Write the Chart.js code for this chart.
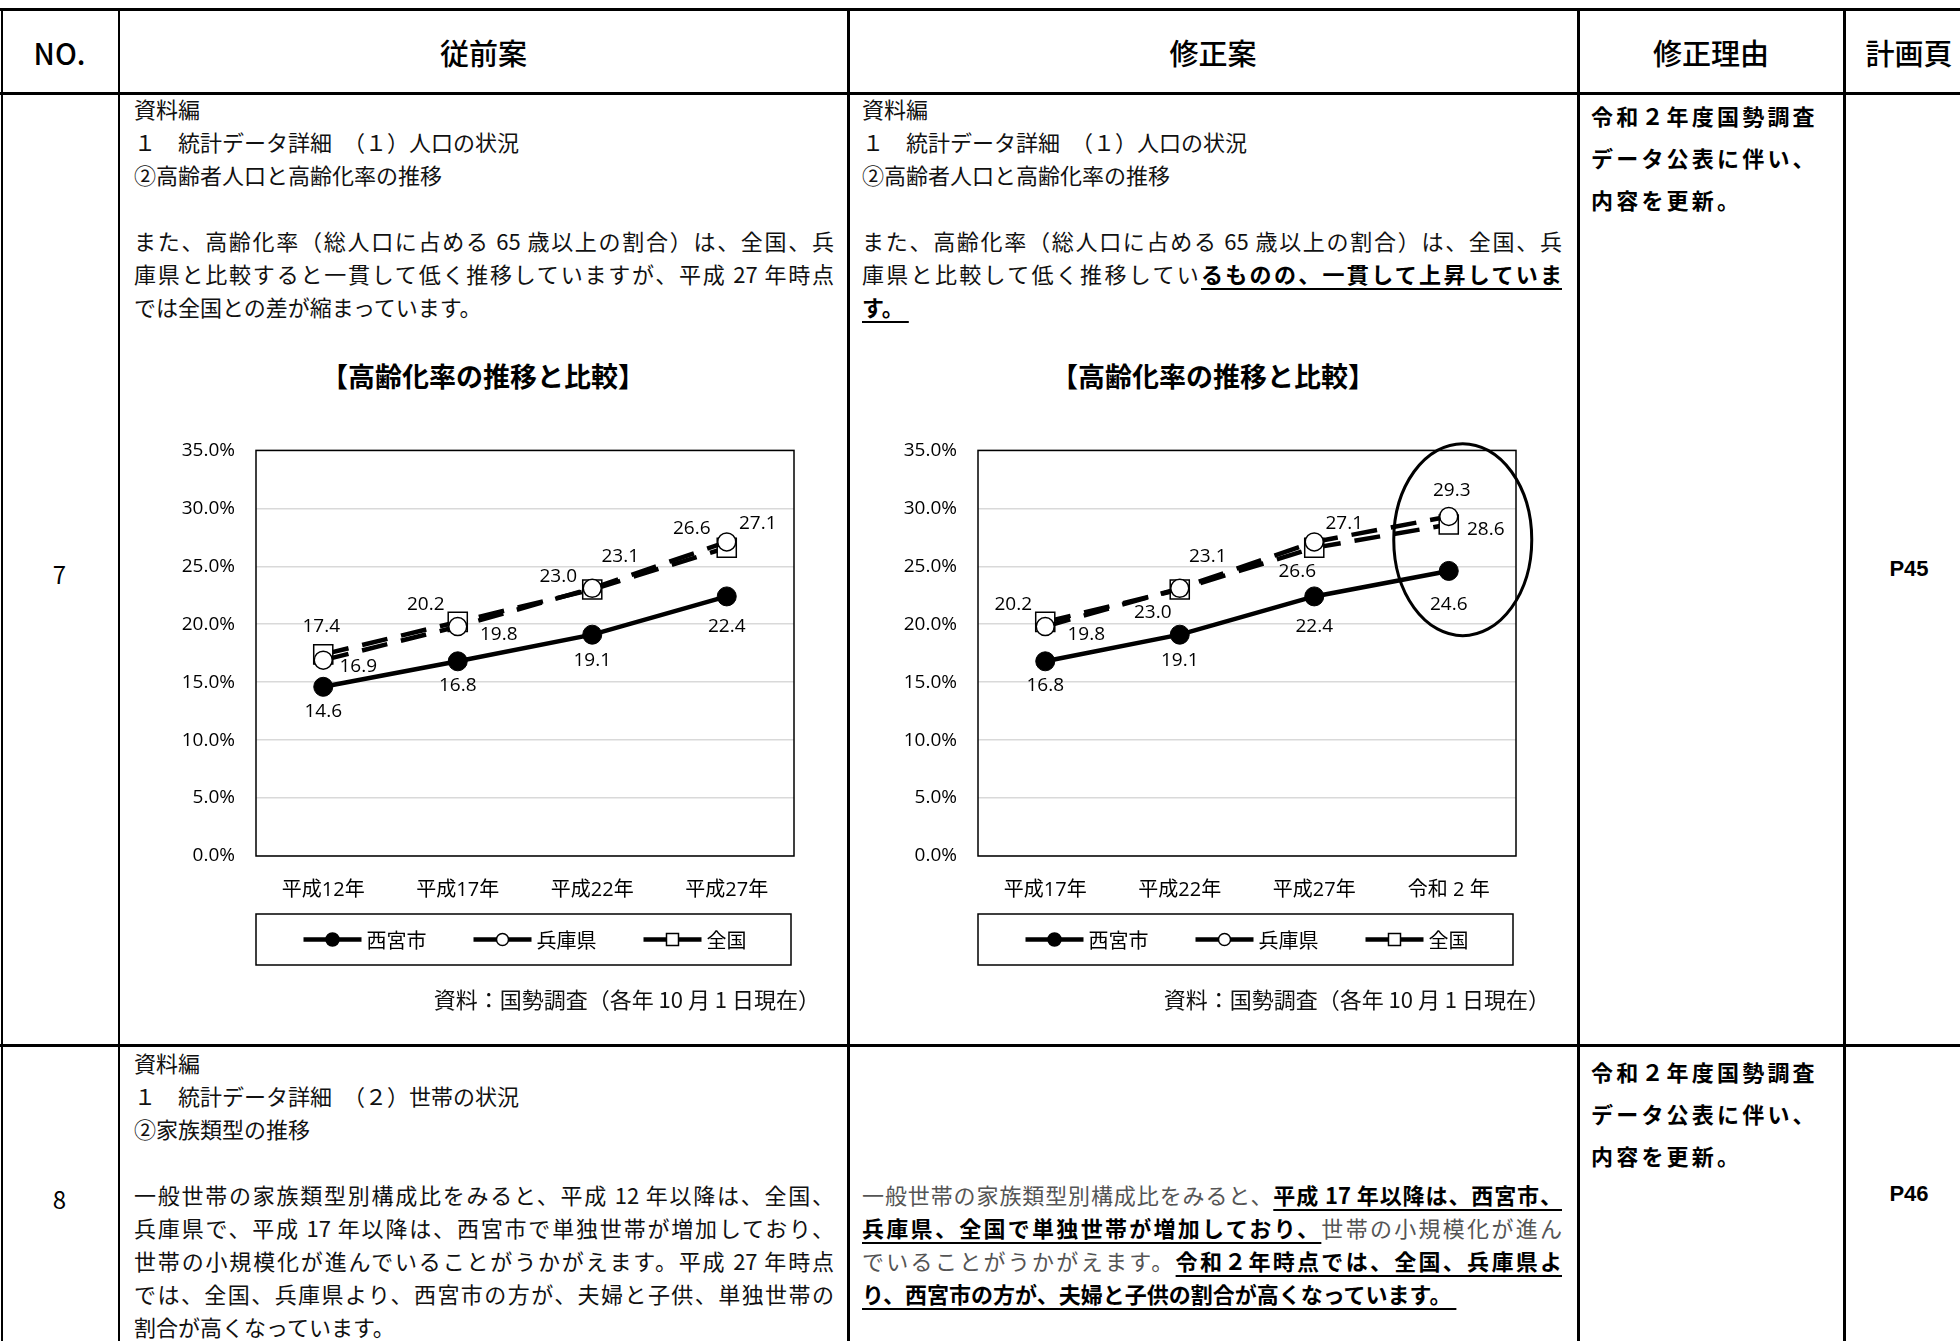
<!DOCTYPE html>
<html lang="ja">
<head>
<meta charset="utf-8">
<title>高齢化率の推移と比較</title>
<script src="https://cdn.jsdelivr.net/npm/chart.js@4.4.1/dist/chart.umd.min.js"></script>
<style>
html, body { margin: 0; padding: 0; background: #fff; }
body { width: 1960px; height: 1341px; position: relative; overflow: hidden;
       font-family: "Noto Sans CJK JP", sans-serif; color: #111; }
.bar { position: absolute; background: #000; }
.head { position: absolute; top: 10px; height: 84px; line-height: 84px; text-align: center;
        font-size: 29px; font-weight: 500; color: #000; }
.ln { position: absolute; height: 33px; line-height: 33px; font-size: 22px; white-space: nowrap; }
.full { width: 700px; text-align: justify; text-align-last: justify; white-space: normal; overflow: hidden; }
.mark { font-weight: bold; color: #000; text-decoration: underline; text-decoration-thickness: 2px; text-underline-offset: 5px; }
.gray { color: #555; }
.reason { position: absolute; left: 1591px; font-size: 22px; font-weight: bold; letter-spacing: 3.2px; line-height: 42px; color: #000; }
.page { position: absolute; left: 1844px; width: 130px; text-align: center; font-family: "Liberation Sans", Arial, sans-serif;
        font-size: 22px; font-weight: bold; color: #000; }
.no { position: absolute; left: 0; width: 119px; text-align: center; font-size: 24px; color: #000; }
.ctitle { position: absolute; width: 500px; text-align: center; font-size: 27px; font-weight: bold; color: #000; top: 356px; }
.src { position: absolute; width: 460px; text-align: right; font-size: 22px; top: 982px; }
canvas { position: absolute; }
</style>
</head>
<body>

<!-- table rules -->
<div class="bar" style="left:0;top:8px;width:1960px;height:3px"></div>
<div class="bar" style="left:0;top:92px;width:1960px;height:3px"></div>
<div class="bar" style="left:0;top:1044px;width:1960px;height:3px"></div>
<div style="position:absolute;left:0;top:11px;width:1960px;height:81px;background:#bfbfbf;z-index:-1"></div>
<div class="bar" style="left:1px;top:8px;width:2px;height:1341px"></div>
<div class="bar" style="left:118px;top:8px;width:2px;height:1341px"></div>
<div class="bar" style="left:847px;top:8px;width:3px;height:1341px"></div>
<div class="bar" style="left:1577px;top:8px;width:3px;height:1341px"></div>
<div class="bar" style="left:1843px;top:8px;width:3px;height:1341px"></div>

<div class="head" style="left:0;width:119px">NO.</div>
<div class="head" style="left:119px;width:729px">従前案</div>
<div class="head" style="left:848px;width:730px">修正案</div>
<div class="head" style="left:1578px;width:266px">修正理由</div>
<div class="head" style="left:1844px;width:130px">計画頁</div>

<!-- row 7 -->
<div class="no" style="top:556px">7</div>
<div class="page" style="top:556px">P45</div>
<div class="reason" style="top:94px">令和２年度国勢調査<br>データ公表に伴い、<br>内容を更新。</div>

<div class="ln" style="left:134px;top:92px">資料編</div>
<div class="ln" style="left:134px;top:125px">１　統計データ詳細　（１）人口の状況</div>
<div class="ln" style="left:134px;top:158px">②高齢者人口と高齢化率の推移</div>
<div class="ln full" style="left:134px;top:224px">また、高齢化率（総人口に占める 65 歳以上の割合）は、全国、兵</div>
<div class="ln full" style="left:134px;top:257px">庫県と比較すると一貫して低く推移していますが、平成 27 年時点</div>
<div class="ln" style="left:134px;top:290px">では全国との差が縮まっています。</div>

<div class="ln" style="left:862px;top:92px">資料編</div>
<div class="ln" style="left:862px;top:125px">１　統計データ詳細　（１）人口の状況</div>
<div class="ln" style="left:862px;top:158px">②高齢者人口と高齢化率の推移</div>
<div class="ln full" style="left:862px;top:224px">また、高齢化率（総人口に占める 65 歳以上の割合）は、全国、兵</div>
<div class="ln full" style="left:862px;top:257px">庫県と比較して低く推移してい<span class="mark">るものの、一貫して上昇していま</span></div>
<div class="ln" style="left:862px;top:290px"><span class="mark">す。&nbsp;</span></div>

<div class="ctitle" style="left:233px">【高齢化率の推移と比較】</div>
<div class="ctitle" style="left:963px">【高齢化率の推移と比較】</div>

<canvas id="chartOld" width="650" height="567" style="left:170px;top:418px"></canvas>
<canvas id="chartNew" width="680" height="567" style="left:880px;top:418px"></canvas>

<div class="src" style="left:360px">資料：国勢調査（各年 10 月 1 日現在）</div>
<div class="src" style="left:1090px">資料：国勢調査（各年 10 月 1 日現在）</div>

<!-- row 8 -->
<div class="no" style="top:1181px">8</div>
<div class="page" style="top:1181px">P46</div>
<div class="reason" style="top:1050px">令和２年度国勢調査<br>データ公表に伴い、<br>内容を更新。</div>

<div class="ln" style="left:134px;top:1046px">資料編</div>
<div class="ln" style="left:134px;top:1079px">１　統計データ詳細　（２）世帯の状況</div>
<div class="ln" style="left:134px;top:1112px">②家族類型の推移</div>
<div class="ln full" style="left:134px;top:1178px">一般世帯の家族類型別構成比をみると、平成 12 年以降は、全国、</div>
<div class="ln full" style="left:134px;top:1211px">兵庫県で、平成 17 年以降は、西宮市で単独世帯が増加しており、</div>
<div class="ln full" style="left:134px;top:1244px">世帯の小規模化が進んでいることがうかがえます。平成 27 年時点</div>
<div class="ln full" style="left:134px;top:1277px">では、全国、兵庫県より、西宮市の方が、夫婦と子供、単独世帯の</div>
<div class="ln" style="left:134px;top:1310px">割合が高くなっています。</div>

<div class="ln full gray" style="left:862px;top:1178px">一般世帯の家族類型別構成比をみると、<span class="mark">平成 17 年以降は、西宮市、</span></div>
<div class="ln full gray" style="left:862px;top:1211px"><span class="mark">兵庫県、全国で単独世帯が増加しており、</span>世帯の小規模化が進ん</div>
<div class="ln full gray" style="left:862px;top:1244px">でいることがうかがえます。<span class="mark">令和２年時点では、全国、兵庫県よ</span></div>
<div class="ln" style="left:862px;top:1277px"><span class="mark">り、西宮市の方が、夫婦と子供の割合が高くなっています。&nbsp;</span></div>

<script>
// 従前案：平成12年〜平成27年（%）
const yearsOld = ['平成12年', '平成17年', '平成22年', '平成27年'];
const nishinomiyaOld = [14.6, 16.8, 19.1, 22.4];
const hyogoOld = [16.9, 19.8, 23.1, 27.1];
const zenkokuOld = [17.4, 20.2, 23.0, 26.6];

// 修正案：平成17年〜令和2年（%）
const yearsNew = ['平成17年', '平成22年', '平成27年', '令和 2 年'];
const nishinomiyaNew = [16.8, 19.1, 22.4, 24.6];
const hyogoNew = [19.8, 23.1, 27.1, 29.3];
const zenkokuNew = [20.2, 23.0, 26.6, 28.6];

const seriesNames = ['西宮市', '兵庫県', '全国'];
const yTicks = [0, 5, 10, 15, 20, 25, 30, 35];

// ラベルの位置（点からのずれ px）
const labelOffsetsOld = [
    [[0, 25], [0, 24], [0, 26], [0, 30]],
    [[35, 6], [41, 8], [28, -32], [31, -18]],
    [[-2, -28], [-32, -17], [-34, -13], [-35, -19]]
];
const labelOffsetsNew = [
    [[0, 24], [0, 26], [0, 30], [0, 34]],
    [[41, 8], [28, -32], [30, -18], [3, -26]],
    [[-32, -17], [-27, 23], [-17, 24], [37, 5]]
];

const numFont = '"Open Sans", "Noto Sans CJK JP", sans-serif';

function makeDatasets(city, pref, nation) {
    return [
        { label: seriesNames[0], data: city, borderColor: '#000', borderWidth: 4.5,
          pointStyle: 'circle', pointRadius: 9.5, pointBackgroundColor: '#000',
          pointBorderColor: '#000', pointBorderWidth: 1, legendMarker: 6.5 },
        { label: seriesNames[1], data: pref, borderColor: '#000', borderWidth: 4.5, borderDash: [26, 14],
          pointStyle: 'circle', pointRadius: 9, pointBackgroundColor: '#fff',
          pointBorderColor: '#000', pointBorderWidth: 1.5, legendMarker: 6 },
        { label: seriesNames[2], data: nation, borderColor: '#000', borderWidth: 4.5, borderDash: [26, 14],
          pointStyle: 'rect', pointRadius: 13.5, pointBackgroundColor: '#fff',
          pointBorderColor: '#000', pointBorderWidth: 1.5, legendMarker: 6 }
    ];
}

function drawMarker(ctx, ds, x, y, r) {
    ctx.beginPath();
    if (ds.pointStyle === 'rect') {
        ctx.rect(x - r, y - r, 2 * r, 2 * r);
    } else {
        ctx.arc(x, y, r, 0, Math.PI * 2);
    }
    ctx.fillStyle = ds.pointBackgroundColor;
    ctx.fill();
    ctx.lineWidth = 1.5;
    ctx.strokeStyle = '#000';
    ctx.stroke();
}

// 枠線・数値ラベル・凡例・囲み
function makeDecor(offsets, ring) {
    return {
        id: 'decor',
        beforeDatasetsDraw(chart) {
            const { ctx, chartArea: a } = chart;
            ctx.save();
            ctx.strokeStyle = '#000';
            ctx.lineWidth = 1.5;
            ctx.strokeRect(a.left, a.top, a.right - a.left, a.bottom - a.top);
            ctx.restore();
        },
        afterDatasetsDraw(chart) {
            const { ctx, chartArea: a } = chart;
            ctx.save();
            ctx.font = '19px ' + numFont;
            ctx.fillStyle = '#000';
            ctx.textAlign = 'center';
            ctx.textBaseline = 'middle';
            chart.data.datasets.forEach((ds, i) => {
                chart.getDatasetMeta(i).data.forEach((pt, j) => {
                    const off = offsets[i][j];
                    ctx.fillText(ds.data[j].toFixed(1), pt.x + off[0], pt.y + off[1]);
                });
            });

            // 凡例
            const top = a.bottom + 58, h = 51;
            ctx.lineWidth = 1.5;
            ctx.strokeStyle = '#000';
            ctx.strokeRect(a.left, top, a.right - a.left - 3, h);
            ctx.font = '20px "Noto Sans CJK JP", sans-serif';
            ctx.textAlign = 'left';
            const symW = 58, gapText = 5, gapItem = 47;
            const widths = chart.data.datasets.map(ds => symW + gapText + ctx.measureText(ds.label).width);
            const total = widths.reduce((s, w) => s + w, 0) + gapItem * (widths.length - 1);
            let x = (a.left + a.right) / 2 - total / 2;
            const cy = top + h / 2;
            chart.data.datasets.forEach((ds, i) => {
                ctx.beginPath();
                ctx.moveTo(x, cy);
                ctx.lineTo(x + symW, cy);
                ctx.lineWidth = 4.5;
                ctx.strokeStyle = '#000';
                ctx.stroke();
                drawMarker(ctx, ds, x + symW / 2, cy, ds.legendMarker);
                ctx.fillStyle = '#000';
                ctx.fillText(ds.label, x + symW + gapText, cy + 1);
                x += widths[i] + gapItem;
            });

            // 令和2年を囲む楕円
            if (ring) {
                const xs = chart.scales.x, ys = chart.scales.y;
                const cx = xs.getPixelForValue(ring.index) + 14;
                const cyR = ys.getPixelForValue(ring.value);
                ctx.beginPath();
                ctx.ellipse(cx, cyR, 69, 96, 0, 0, Math.PI * 2);
                ctx.lineWidth = 3;
                ctx.strokeStyle = '#000';
                ctx.stroke();
            }
            ctx.restore();
        }
    };
}

function buildChart(id, labels, datasets, offsets, yWidth, padRight, ring) {
    const ctx = document.getElementById(id).getContext('2d');
    return new Chart(ctx, {
        type: 'line',
        data: { labels: labels, datasets: datasets },
        options: {
            responsive: false,
            animation: false,
            events: [],
            elements: { line: { tension: 0 } },
            layout: { padding: { top: 0, right: padRight, bottom: 0, left: 0 } },
            plugins: { legend: { display: false }, tooltip: { enabled: false } },
            scales: {
                x: {
                    offset: true,
                    grid: { display: false, drawTicks: false },
                    border: { display: false },
                    ticks: { padding: 22, color: '#000', font: { size: 20, family: numFont } },
                    afterFit: s => { s.height = 129; }
                },
                y: {
                    min: 0,
                    max: 35,
                    grid: { color: '#d9d9d9', lineWidth: 1.5, drawTicks: false },
                    border: { display: false },
                    afterBuildTicks: s => { s.ticks = yTicks.map(v => ({ value: v })); },
                    ticks: { padding: 21, color: '#000', font: { size: 19, family: numFont },
                             callback: v => v.toFixed(1) + '%' },
                    afterFit: s => { s.width = yWidth; }
                }
            }
        },
        plugins: [makeDecor(offsets, ring)]
    });
}

document.addEventListener('DOMContentLoaded', function() {
    buildChart('chartOld', yearsOld, makeDatasets(nishinomiyaOld, hyogoOld, zenkokuOld),
               labelOffsetsOld, 86, 26, null);
    buildChart('chartNew', yearsNew, makeDatasets(nishinomiyaNew, hyogoNew, zenkokuNew),
               labelOffsetsNew, 98, 44, { index: 3, value: 27.3 });
});
</script>
</body>
</html>
